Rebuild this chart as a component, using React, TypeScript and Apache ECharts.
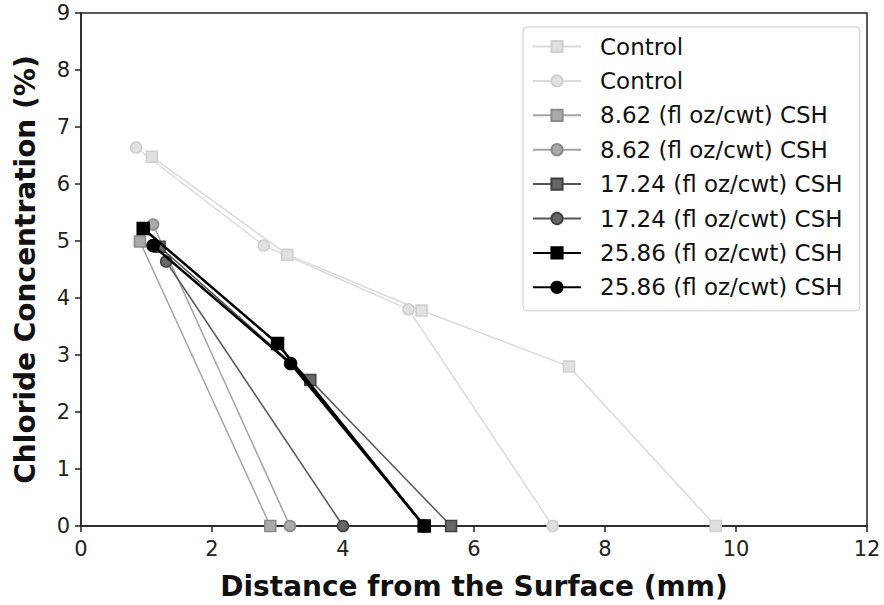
import React, { useEffect, useRef } from "react";
import * as echarts from "echarts";

const xTicks = [0, 2, 4, 6, 8, 10, 12];
const yTicks = [0, 1, 2, 3, 4, 5, 6, 7, 8, 9];

const controlSqX = [1.08, 3.15, 5.2, 7.45, 9.69];
const controlSqY = [6.48, 4.76, 3.78, 2.8, 0];
const controlCiX = [0.84, 2.79, 5.0, 7.2];
const controlCiY = [6.64, 4.92, 3.8, 0];
const s862SqX = [0.9, 2.89];
const s862SqY = [4.99, 0];
const s862CiX = [1.1, 3.19];
const s862CiY = [5.29, 0];
const s1724SqX = [1.2, 3.5, 5.65];
const s1724SqY = [4.9, 2.56, 0];
const s1724CiX = [1.3, 4.0];
const s1724CiY = [4.64, 0];
const s2586SqX = [0.95, 3.0, 5.24];
const s2586SqY = [5.22, 3.2, 0];
const s2586CiX = [1.1, 3.2, 5.24];
const s2586CiY = [4.92, 2.85, 0];

const labels = [
  "Control",
  "Control ",
  "8.62 (fl oz/cwt) CSH",
  "8.62 (fl oz/cwt) CSH ",
  "17.24 (fl oz/cwt) CSH",
  "17.24 (fl oz/cwt) CSH ",
  "25.86 (fl oz/cwt) CSH",
  "25.86 (fl oz/cwt) CSH ",
];

const zip = (xs: number[], ys: number[]) => xs.map((x, i) => [x, ys[i]]);

export default function App() {
  const ref = useRef<HTMLDivElement>(null);
  useEffect(() => {
    const chart = echarts.init(ref.current!, null, { renderer: "svg" });
    const font = "DejaVu Sans";
    const mk = (
      name: string,
      xs: number[],
      ys: number[],
      symbol: string,
      line: string,
      fill: string,
      edge: string,
      lw: number,
      size: number,
      z: number
    ) => ({
      type: "line",
      name,
      data: zip(xs, ys),
      symbol,
      symbolSize: size,
      showSymbol: true,
      z,
      lineStyle: { color: line, width: lw },
      itemStyle: { color: fill, borderColor: edge, borderWidth: 1.5, opacity: 1 },
      emphasis: { disabled: true },
    });
    chart.setOption({
      animation: false,
      textStyle: { fontFamily: font },
      grid: {
        left: 81,
        right: 17,
        top: 13,
        bottom: 78,
        show: true,
        borderColor: "#222",
        borderWidth: 1.5,
      },
      xAxis: {
        type: "value",
        min: 0,
        max: 12,
        interval: 2,
        name: "Distance from the Surface (mm)",
        nameLocation: "middle",
        nameGap: 46,
        nameTextStyle: { fontSize: 28, fontWeight: "bold", color: "#111", fontFamily: font },
        axisLine: { lineStyle: { color: "#222", width: 1.5 } },
        axisTick: { show: true, inside: false, length: 6, lineStyle: { color: "#222", width: 1.5 } },
        axisLabel: { fontSize: 21, color: "#222", margin: 12, fontFamily: font },
        splitLine: { show: false },
      },
      yAxis: {
        type: "value",
        min: 0,
        max: 9,
        interval: 1,
        name: "Chloride Concentration (%)",
        nameLocation: "middle",
        nameGap: 42,
        nameTextStyle: { fontSize: 28, fontWeight: "bold", color: "#111", fontFamily: font },
        axisLine: { show: true, lineStyle: { color: "#222", width: 1.5 } },
        axisTick: { show: true, inside: false, length: 6, lineStyle: { color: "#222", width: 1.5 } },
        axisLabel: { fontSize: 21, color: "#222", margin: 11, fontFamily: font },
        splitLine: { show: false },
      },
      legend: {
        orient: "vertical",
        left: 523,
        top: 27,
        itemWidth: 48,
        itemHeight: 14,
        itemGap: 11.4,
        padding: [8, 10, 12, 9],
        backgroundColor: "#fff",
        borderColor: "#cccccc",
        borderWidth: 1,
        borderRadius: 4,
        textStyle: {
          fontSize: 23,
          lineHeight: 23,
          color: "#111",
          fontFamily: font,
          padding: [0, 0, 0, 14],
        },
        data: labels,
      },
      series: [
        mk(labels[0], controlSqX, controlSqY, "rect", "#dadada", "#e0e0e0", "#cfcfcf", 1.5, 11, 1),
        mk(labels[1], controlCiX, controlCiY, "circle", "#dadada", "#e0e0e0", "#cfcfcf", 1.5, 11, 1),
        mk(labels[2], s862SqX, s862SqY, "rect", "#a3a3a3", "#aaaaaa", "#8a8a8a", 1.5, 11, 2),
        mk(labels[3], s862CiX, s862CiY, "circle", "#a3a3a3", "#aaaaaa", "#8a8a8a", 1.5, 11, 2),
        mk(labels[4], s1724SqX, s1724SqY, "rect", "#555555", "#666666", "#404040", 1.5, 11, 3),
        mk(labels[5], s1724CiX, s1724CiY, "circle", "#555555", "#666666", "#404040", 1.5, 11, 3),
        mk(labels[6], s2586SqX, s2586SqY, "rect", "#000000", "#000000", "#000000", 2.5, 12, 4),
        mk(labels[7], s2586CiX, s2586CiY, "circle", "#000000", "#000000", "#000000", 2.5, 12, 4),
      ],
    });
    return () => chart.dispose();
  }, []);
  return (
    <div
      ref={ref}
      style={{ position: "fixed", left: 0, top: 0, width: 884, height: 605, background: "#fff" }}
    />
  );
}
